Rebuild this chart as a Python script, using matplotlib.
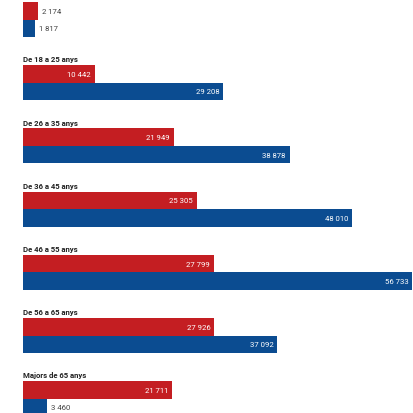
import matplotlib
matplotlib.use("Agg")
import matplotlib.pyplot as plt
import numpy as np

plt.rcParams["font.family"] = ["Liberation Sans Narrow", "Roboto", "DejaVu Sans"]

groups = ["Menors de 18 anys", "De 18 a 25 anys", "De 26 a 35 anys",
          "De 36 a 45 anys", "De 46 a 55 anys", "De 56 a 65 anys",
          "Majors de 65 anys"]
red_values = [2174, 10442, 21949, 25305, 27799, 27926, 21711]
blue_values = [1817, 29208, 38878, 48010, 56733, 37092, 3460]

red = "#c41e22"
blue = "#0b4c91"

fig = plt.figure(figsize=(4.14, 4.14), dpi=100)
ax = fig.add_axes([0, 0, 1, 1])
ax.set_axis_off()

# one group per unit, bars 0.277 units tall
h = 0.277
y = np.arange(len(groups))
ax.barh(y - h / 2, red_values, height=h, color=red, linewidth=0)
ax.barh(y + h / 2, blue_values, height=h, color=blue, linewidth=0)

ax.set_xlim(-3354, 57021)
ax.set_ylim(6.226, -0.3245)


def fmt(v):
    return f"{v:,}".replace(",", " ")


for i, name in enumerate(groups):
    ax.text(0, i - h - 0.06, name, fontsize=5.6, fontweight="bold",
            color="#222222", ha="left", va="baseline")
    for v, yy in ((red_values[i], i - h / 2), (blue_values[i], i + h / 2)):
        if v > 6000:
            ax.text(v - 550, yy, fmt(v), fontsize=5.6, color="white",
                    ha="right", va="center")
        else:
            ax.text(v + 580, yy, fmt(v), fontsize=5.6, color="#444444",
                    ha="left", va="center")

fig.savefig("out.png", dpi=100)
